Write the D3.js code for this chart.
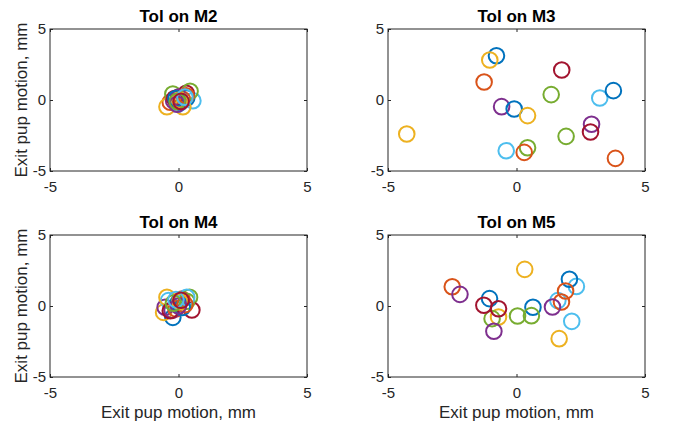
<!DOCTYPE html>
<html>
<head>
<meta charset="utf-8">
<script src="https://cdn.jsdelivr.net/npm/d3@7"></script>
<style>
  body { margin: 0; background: #fff; }
  text { font-family: "Liberation Sans", Arial, sans-serif; }
</style>
</head>
<body>
<div id="chart"></div>
<script>
// Panel titles, ticks and axis label
const panelTitles = ["Tol on M2", "Tol on M3", "Tol on M4", "Tol on M5"];
const tickValues = [-5, 0, 5];
const axisLabel = "Exit pup motion, mm";

// MATLAB default colour order (7 series)
const seriesColors = ["#0072BD", "#D95319", "#EDB120", "#7E2F8E", "#77AC30", "#4DBEEE", "#A2142F"];

// x / y of each series (one inner array per colour), per panel
const m2X = [[0.32, 0.05, -0.10], [-0.32, 0.15, 0.30], [-0.45, 0.17, 0.05], [-0.19, 0.00, -0.05], [-0.22, 0.45, -0.05], [0.56, -0.02, 0.25], [0.30, -0.15, 0.10]];
const m2Y = [[0.14, -0.20, 0.10], [-0.16, 0.05, 0.30], [-0.47, -0.47, 0.00], [-0.05, 0.20, -0.30], [0.42, 0.62, -0.10], [-0.05, -0.28, 0.20], [0.47, 0.10, -0.10]];

const m3X = [[-0.78, -0.09, 3.77], [-1.26, 0.30, 3.85], [-4.27, -1.04, 0.43], [-0.58, 2.92], [0.43, 1.35, 1.93], [-0.40, 3.24], [1.76, 2.88]];
const m3Y = [[3.12, -0.63, 0.66], [1.27, -3.69, -4.11], [-2.39, 2.82, -1.10], [-0.47, -1.71], [-3.36, 0.38, -2.56], [-3.57, 0.14], [2.11, -2.25]];

const m4X = [[-0.22, 0.00, 0.15], [0.13, -0.10, 0.25], [-0.58, -0.45, 0.05], [-0.52, -0.25, 0.00], [0.43, 0.32, -0.20], [-0.39, 0.32, -0.10], [0.52, -0.32, 0.10]];
const m4Y = [[-0.80, 0.26, -0.10], [0.49, -0.20, 0.10], [-0.45, 0.61, 0.30], [-0.09, -0.30, 0.00], [0.61, 0.33, 0.20], [0.38, 0.61, 0.45], [-0.28, -0.33, 0.40]];

const m5X = [[-1.05, 0.64, 2.06], [-2.50, 1.75, 1.91], [-0.70, 0.32, 1.66], [-2.20, -0.88, 1.40], [-0.95, 0.04, 0.58], [1.61, 2.33, 2.15], [-1.27, -0.70]];
const m5Y = [[0.52, -0.09, 1.88], [1.36, 0.28, 1.06], [-0.77, 2.58, -2.30], [0.82, -1.78, -0.07], [-0.89, -0.70, -0.68], [0.38, 1.38, -1.08], [0.05, -0.19]];

const panelX = [m2X, m3X, m4X, m5X];
const panelY = [m2Y, m3Y, m4Y, m5Y];

// Layout
const width = 673, height = 427;
const plotW = 257, plotH = 142;
const lefts = [50, 388];
const tops = [29, 235];

const svg = d3.select("#chart")
    .append("svg")
    .attr("width", width)
    .attr("height", height);

// plain hyphen minus like MATLAB
const fmt = d => String(d);

panelTitles.forEach((title, p) => {
    const col = p % 2, row = Math.floor(p / 2);
    const g = svg.append("g")
        .attr("transform", `translate(${lefts[col]}, ${tops[row]})`);

    const x = d3.scaleLinear().domain([-5, 5]).range([0, plotW]);
    const y = d3.scaleLinear().domain([-5, 5]).range([plotH, 0]);

    // points: one at a time, cycling through the colours
    const pts = [];
    const xs = panelX[p], ys = panelY[p];
    const maxLen = d3.max(xs, s => s.length);
    for (let k = 0; k < maxLen; k++) {
        xs.forEach((s, si) => {
            if (k < s.length) pts.push({x: s[k], y: ys[si][k], c: si});
        });
    }
    g.selectAll("circle")
        .data(pts)
        .enter()
        .append("circle")
        .attr("cx", d => x(d.x))
        .attr("cy", d => y(d.y))
        .attr("r", 7.8)
        .attr("fill", "none")
        .attr("stroke", d => seriesColors[d.c])
        .attr("stroke-width", 2);

    // axes with inward ticks on all four sides
    const axisStyle = a => a.call(s => s.select(".domain").remove())
        .call(s => s.selectAll("line").attr("stroke", "#262626"));
    g.append("g")
        .attr("transform", `translate(0, ${plotH})`)
        .call(d3.axisBottom(x).tickValues(tickValues).tickFormat(fmt).tickSizeInner(-3).tickSizeOuter(0).tickPadding(10))
        .call(axisStyle);
    g.append("g")
        .call(d3.axisTop(x).tickValues(tickValues).tickSizeInner(-3).tickSizeOuter(0).tickFormat(""))
        .call(axisStyle);
    g.append("g")
        .call(d3.axisLeft(y).tickValues(tickValues).tickFormat(fmt).tickSizeInner(-3).tickSizeOuter(0).tickPadding(4))
        .call(axisStyle);
    g.append("g")
        .attr("transform", `translate(${plotW}, 0)`)
        .call(d3.axisRight(y).tickValues(tickValues).tickSizeInner(-3).tickSizeOuter(0).tickFormat(""))
        .call(axisStyle);

    g.selectAll(".tick text")
        .attr("fill", "#262626")
        .style("font-size", "15px")
        .style("font-family", "Liberation Sans, Arial, sans-serif");

    // box
    g.append("rect")
        .attr("width", plotW)
        .attr("height", plotH)
        .attr("fill", "none")
        .attr("stroke", "#262626")
        .attr("stroke-width", 1);

    // title
    g.append("text")
        .attr("x", plotW / 2)
        .attr("y", -7)
        .attr("text-anchor", "middle")
        .style("font-size", "17px")
        .style("font-weight", "bold")
        .attr("fill", "#000")
        .text(title);

    // y label on left column
    if (col === 0) {
        g.append("text")
            .attr("transform", `translate(-23, ${plotH / 2}) rotate(-90)`)
            .attr("text-anchor", "middle")
            .style("font-size", "17px")
            .attr("fill", "#262626")
            .text(axisLabel);
    }
    // x label on bottom row
    if (row === 1) {
        g.append("text")
            .attr("x", plotW / 2)
            .attr("y", plotH + 41)
            .attr("text-anchor", "middle")
            .style("font-size", "17px")
            .attr("fill", "#262626")
            .text(axisLabel);
    }
});
</script>
</body>
</html>
